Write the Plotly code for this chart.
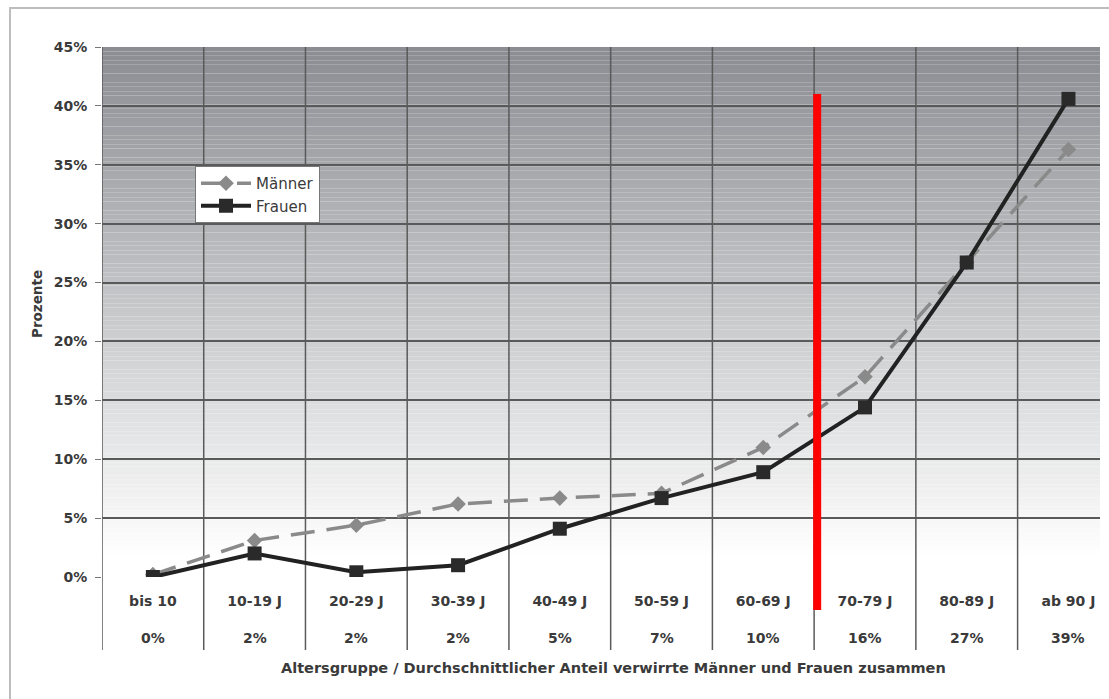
import plotly.graph_objects as go

categories = ["bis 10", "10-19 J", "20-29 J", "30-39 J", "40-49 J",
              "50-59 J", "60-69 J", "70-79 J", "80-89 J", "ab 90 J"]
avg_labels = ["0%", "2%", "2%", "2%", "5%", "7%", "10%", "16%", "27%", "39%"]
maenner = [0.2, 3.1, 4.4, 6.2, 6.7, 7.1, 11.0, 17.0, 26.7, 36.3]
frauen = [0.0, 2.0, 0.4, 1.0, 4.1, 6.7, 8.9, 14.4, 26.7, 40.6]
y_ticks = [0, 5, 10, 15, 20, 25, 30, 35, 40, 45]
y_range = [0, 45]
x_range = [-0.5, 9.31]
red_line_x = 6.53
red_line_top = 41.0
red_line_bottom = -2.8

FONT = "DejaVu Sans, Verdana, sans-serif"
TXT = "#3a3a3a"
GRID = "#5a5a5a"

W, H = 1109, 699
ML, MR, MT, MB = 102, 9, 47, 122
plot_w = W - ML - MR
plot_h = H - MT - MB
base = H - MB

def ypaper(v):
    return (v - y_range[0]) / (y_range[1] - y_range[0])

x = list(range(len(categories)))

fig = go.Figure()
fig.add_trace(go.Scatter(
    x=x, y=maenner, name="Männer", mode="lines+markers",
    line=dict(color="#8a8a8a", width=3.5, dash="24px,12px"),
    marker=dict(symbol="diamond", size=12, color="#8a8a8a"),
))
fig.add_trace(go.Scatter(
    x=x, y=frauen, name="Frauen", mode="lines+markers",
    line=dict(color="#222222", width=4),
    marker=dict(symbol="square", size=14, color="#2a2a2a"),
))

shapes = []
# gradient background
N = 120
top = (138, 141, 146)
for i in range(N):
    f0 = i / N
    f1 = (i + 1) / N
    t = min(1.0, (i + 0.5) / (N * 0.96))
    c = tuple(int(round(top[k] + (255 - top[k]) * t)) for k in range(3))
    shapes.append(dict(type="rect", xref="x domain", yref="y domain",
                       x0=0, x1=1, y0=1 - f1, y1=1 - f0,
                       fillcolor="rgb(%d,%d,%d)" % c, line=dict(width=0),
                       layer="below"))
# vertical boundaries (extending into the label table)
table_bottom = -(650 - base) / plot_h
for i in range(len(categories) + 1):
    shapes.append(dict(type="line", xref="x", yref="paper",
                       x0=i - 0.5, x1=i - 0.5, y0=table_bottom, y1=1,
                       line=dict(color=GRID, width=1.5), layer="below"))
# outer frame
shapes.append(dict(type="rect", xref="paper", yref="paper",
                   x0=(10 - ML) / plot_w, x1=(1140 - ML) / plot_w,
                   y0=-(740 - base) / plot_h, y1=1 + (MT - 8) / plot_h,
                   line=dict(color="#bdbdbd", width=2), layer="below"))
# red marker line
shapes.append(dict(type="line", xref="x", yref="paper",
                   x0=red_line_x, x1=red_line_x,
                   y0=ypaper(red_line_bottom), y1=ypaper(red_line_top),
                   line=dict(color="#ff0000", width=8), layer="above"))

annotations = []
for i, lab in enumerate(avg_labels):
    annotations.append(dict(x=i, y=-(638 - base) / plot_h, xref="x", yref="paper",
                            text=lab, showarrow=False, xanchor="center", yanchor="middle",
                            font=dict(family=FONT, size=14, color=TXT, weight="bold")))
annotations.append(dict(x=(613 - ML) / plot_w, y=-(668 - base) / plot_h,
                        xref="paper", yref="paper",
                        text="Altersgruppe / Durchschnittlicher Anteil verwirrte Männer und Frauen zusammen",
                        showarrow=False, xanchor="center", yanchor="middle",
                        font=dict(family=FONT, size=14.5, color=TXT, weight="bold")))
annotations.append(dict(x=(37 - ML) / plot_w, y=(base - 304) / plot_h,
                        xref="paper", yref="paper", text="Prozente", textangle=-90,
                        showarrow=False, xanchor="center", yanchor="middle",
                        font=dict(family=FONT, size=13.5, color=TXT, weight="bold")))

fig.update_layout(
    width=W, height=H,
    margin=dict(l=ML, r=MR, t=MT, b=MB, pad=0),
    paper_bgcolor="white", plot_bgcolor="white",
    font=dict(family=FONT, size=14, color=TXT),
    shapes=shapes, annotations=annotations,
    legend=dict(x=(195 - ML) / plot_w, y=(base - 166) / plot_h,
                xanchor="left", yanchor="top",
                bgcolor="white", bordercolor="#777777", borderwidth=1,
                font=dict(family=FONT, size=15, color=TXT),
                itemwidth=50, tracegroupgap=0),
    showlegend=True,
)
fig.update_xaxes(
    range=x_range, tickmode="array", tickvals=x, ticktext=categories,
    showgrid=False, zeroline=False, showline=False, ticks="",
    tickfont=dict(family=FONT, size=14, color=TXT, weight="bold"),
    ticklabelstandoff=14,
)
fig.update_yaxes(
    range=y_range, tickmode="array", tickvals=y_ticks,
    ticktext=["%d%%" % v for v in y_ticks],
    showgrid=True, gridcolor=GRID, gridwidth=1.5, zeroline=False,
    showline=False, ticks="outside", ticklen=6, tickcolor="#777777",
    tickfont=dict(family=FONT, size=14, color=TXT, weight="bold"),
    ticklabelstandoff=5,
)

fig.write_html("out.html")
